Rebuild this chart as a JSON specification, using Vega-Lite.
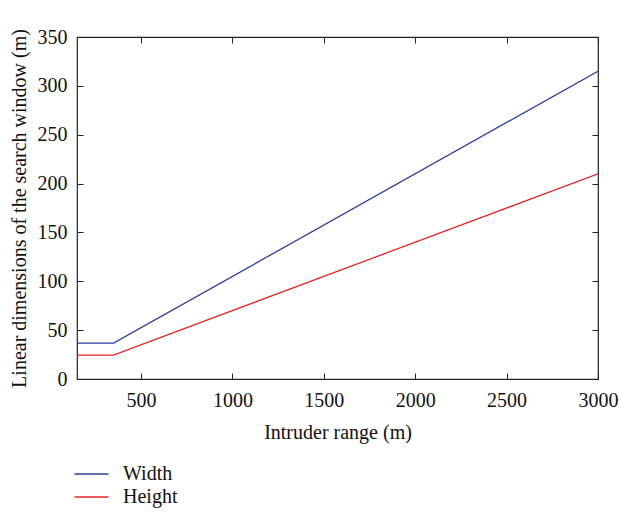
{
  "$schema": "https://vega.github.io/schema/vega-lite/v6.json",
  "width": 521,
  "height": 342,
  "autosize": {"type": "none"},
  "padding": {"left": 77, "top": 37, "right": 22, "bottom": 135},
  "background": "white",
  "config": {
    "font": "Liberation Serif",
    "view": {"stroke": "#222", "strokeWidth": 1.2},
    "axis": {"grid": false, "domain": false, "tickColor": "#222", "labelColor": "#111", "titleColor": "#111", "labelFont": "Liberation Serif", "titleFont": "Liberation Serif", "labelFontSize": 20, "titleFontSize": 20, "titleFontWeight": "normal", "labelFlush": false, "labelOverlap": false}
  },
  "data": {"values": [
    {"series": "Width", "range": 150, "value": 36.75},
    {"series": "Width", "range": 350, "value": 36.75},
    {"series": "Width", "range": 3000, "value": 315},
    {"series": "Height", "range": 150, "value": 24.5},
    {"series": "Height", "range": 350, "value": 24.5},
    {"series": "Height", "range": 3000, "value": 210}
  ]},
  "layer": [
    {
      "mark": {"type": "line", "strokeWidth": 1.3, "clip": true},
      "encoding": {
        "x": {"field": "range", "type": "quantitative", "scale": {"domain": [150, 3000], "nice": false, "zero": false},
              "axis": {"title": "Intruder range (m)", "format": "d", "values": [500, 1000, 1500, 2000, 2500, 3000], "tickSize": -6, "labelPadding": 17, "titlePadding": 12, "labelFlush": false}},
        "y": {"field": "value", "type": "quantitative", "scale": {"domain": [0, 350], "nice": false},
              "axis": {"title": "Linear dimensions of the search window (m)", "format": "d", "values": [0, 50, 100, 150, 200, 250, 300, 350], "tickSize": -6, "labelPadding": 16, "titlePadding": 8, "labelFlush": false}},
        "color": {"field": "series", "type": "nominal", "scale": {"domain": ["Width", "Height"], "range": ["#2b3f9a", "#e3262b"]},
                  "legend": {"title": null, "orient": "none", "legendX": 4.5, "legendY": 427, "symbolType": "M-2,0H2", "symbolSize": 289, "symbolStrokeWidth": 1.3, "symbolFillColor": "transparent", "labelFontSize": 20, "labelFont": "Liberation Serif", "labelColor": "#111", "padding": 0, "rowPadding": 3, "labelOffset": 21.5}}
      }
    },
    {
      "mark": {"type": "line", "opacity": 0},
      "encoding": {
        "x": {"field": "range", "type": "quantitative", "axis": {"orient": "top", "title": null, "labels": false, "values": [500, 1000, 1500, 2000, 2500, 3000], "tickSize": -6}},
        "y": {"field": "value", "type": "quantitative", "axis": {"orient": "right", "title": null, "labels": false, "values": [0, 50, 100, 150, 200, 250, 300, 350], "tickSize": -6}},
        "detail": {"field": "series"}
      }
    }
  ],
  "resolve": {"axis": {"x": "independent", "y": "independent"}}
}
